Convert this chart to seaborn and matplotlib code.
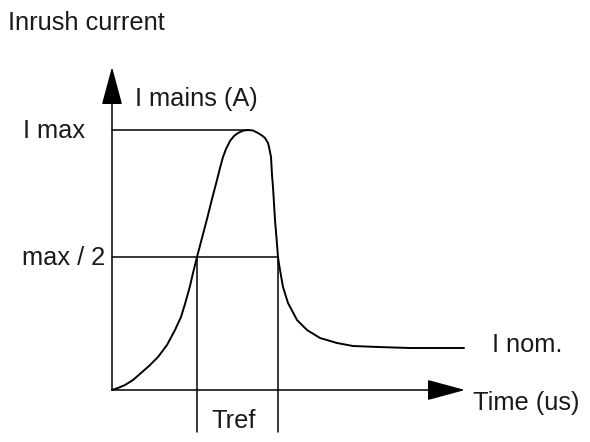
import matplotlib
matplotlib.use("Agg")
import matplotlib.pyplot as plt
import seaborn as sns
import pandas as pd

sns.set_theme(style="white")
plt.rcParams['font.family'] = ['Liberation Sans', 'DejaVu Sans']

# Curve (time units, current units; origin at axes corner)
time_pts = [0, 6, 13, 21, 29, 37, 46, 55, 63, 69, 73, 78, 81, 85,
            90, 95, 100, 105, 108, 111, 114, 118, 122, 126, 131, 136,
            141, 146, 150, 153, 156, 157, 158, 159, 160, 161, 163, 164.5, 166,
            167, 168, 171, 176, 185, 195, 208, 225, 241, 266, 298, 352]
current_pts = [0, 2, 5, 10, 17, 24, 33, 45, 60, 73, 86, 104, 117, 133,
               152, 171, 191, 210, 222, 233, 241, 249, 254, 257, 259.3, 260,
               259.5, 257, 254.5, 252, 247, 243, 238, 233, 215, 203, 170, 152, 133,
               126, 120, 103, 87, 70, 60, 52, 47, 44, 43, 42, 42]

i_max = 260
i_half = 133
t_rise_half = 85
t_fall_half = 166
t_peak = 136
y_axis_top = 323
x_axis_end = 353

labels = {
    "title": "Inrush current",
    "ylabel": "I mains (A)",
    "imax": "I max",
    "half": "max / 2",
    "inom": "I nom.",
    "xlabel": "Time (us)",
    "tref": "Tref",
}

df = pd.DataFrame({"t": time_pts, "i": current_pts})

fig = plt.figure(figsize=(5.9, 4.42), dpi=100)
ax = fig.add_axes([0, 0, 1, 1])
ax.set_xlim(-112, 478)
ax.set_ylim(-52, 390)
ax.axis("off")

sns.lineplot(data=df, x="t", y="i", ax=ax, color="black", linewidth=1.4,
             sort=False, estimator=None)

lw = 1.1
# guide lines
ax.plot([0, t_peak], [i_max, i_max], color="black", lw=lw)
ax.plot([0, t_fall_half], [i_half, i_half], color="black", lw=lw)
ax.plot([t_rise_half, t_rise_half], [i_half, -42], color="black", lw=lw)
ax.plot([t_fall_half, t_fall_half], [i_half, -42], color="black", lw=lw)

# axes with arrows
arrow_style = "-|>,head_length=2.4,head_width=0.65"
ax.annotate("", xy=(0, y_axis_top), xytext=(0, 0),
            arrowprops=dict(arrowstyle=arrow_style, mutation_scale=10,
                            color="black", lw=lw, shrinkA=0, shrinkB=0))
ax.annotate("", xy=(x_axis_end, 0), xytext=(0, 0),
            arrowprops=dict(arrowstyle=arrow_style, mutation_scale=10,
                            color="black", lw=lw, shrinkA=0, shrinkB=0))

fs = 18.3
tc = "#1a1a1a"
ax.text(-104, 360, labels["title"], fontsize=fs, color=tc, va="baseline", ha="left")
ax.text(23, 284, labels["ylabel"], fontsize=fs, color=tc, va="baseline", ha="left")
ax.text(-89, 252, labels["imax"], fontsize=fs, color=tc, va="baseline", ha="left")
ax.text(-90, 125, labels["half"], fontsize=fs, color=tc, va="baseline", ha="left")
ax.text(380, 38, labels["inom"], fontsize=fs, color=tc, va="baseline", ha="left")
ax.text(361, -20, labels["xlabel"], fontsize=fs, color=tc, va="baseline", ha="left")
ax.text(99, -38, labels["tref"], fontsize=fs, color=tc, va="baseline", ha="left")

fig.savefig("out.png", dpi=100, facecolor="white")
